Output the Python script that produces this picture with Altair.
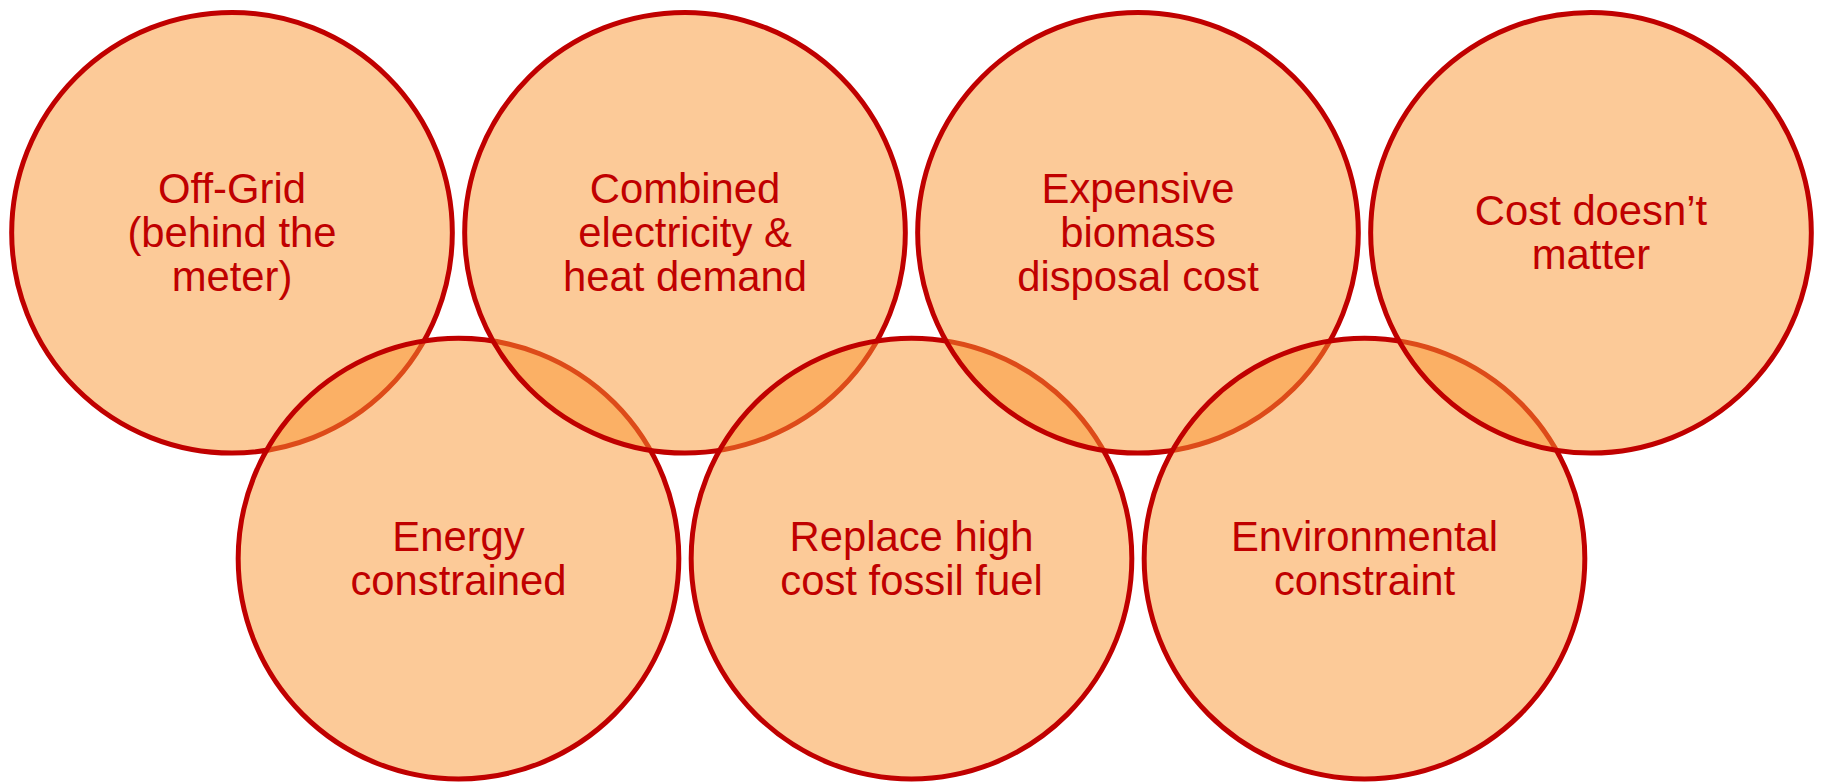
import altair as alt
import pandas as pd

# Seven overlapping "ring" circles: label, column slot and row
labels = [
    "Off-Grid\n(behind the\nmeter)",
    "Energy\nconstrained",
    "Combined\nelectricity &\nheat demand",
    "Replace high\ncost fossil fuel",
    "Expensive\nbiomass\ndisposal cost",
    "Environmental\nconstraint",
    "Cost doesn\u2019t\nmatter",
]
cols = [0, 1, 2, 3, 4, 5, 6]
rows = [0, 1, 0, 1, 0, 1, 0]

df = pd.DataFrame({"label": labels, "col": cols, "row": rows, "order": list(range(len(labels)))})

RED = "#C00000"
FILL = "#FA9632"
R = 221.3       # circle radius in px (Vega circle radius = sqrt(size)/2)
LH = 44         # text line height in px
Y_DOMAIN = [-0.6844, 1.6865]
HEIGHT = 776
PX_PER_ROW = HEIGHT / (Y_DOMAIN[1] - Y_DOMAIN[0])

x_scale = alt.Scale(domain=[-0.989, 6.9934], nice=False, zero=False)
y_scale = alt.Scale(domain=Y_DOMAIN, nice=False, zero=False, reverse=True)

circles = alt.Chart(df).mark_point(
    shape="circle", filled=True, fill=FILL, fillOpacity=0.5,
    stroke=RED, strokeWidth=5, strokeOpacity=1, opacity=1,
    size=(2 * R) ** 2,
).encode(
    x=alt.X("col:Q", axis=None, scale=x_scale),
    y=alt.Y("row:Q", axis=None, scale=y_scale),
    order=alt.Order("order:Q"),
)

texts = alt.Chart(df).transform_calculate(
    nlines="length(split(datum.label, '\\n'))"
).transform_calculate(
    ty=f"datum.row + (1.5 - (datum.nlines - 1) * {LH / 2}) / {PX_PER_ROW}"
).mark_text(
    font="Liberation Sans", fontSize=42, lineHeight=LH, lineBreak="\n",
    color=RED, align="center", baseline="middle",
).encode(
    x=alt.X("col:Q", axis=None, scale=x_scale),
    y=alt.Y("ty:Q", axis=None, scale=y_scale),
    text="label:N",
)

chart = alt.layer(circles, texts).properties(
    width=1816, height=HEIGHT,
    autosize=alt.AutoSizeParams(type="none"),
    padding=0,
    background="white",
).configure_view(stroke=None)

chart.save("out.html", embed_options={"renderer": "svg", "actions": False})
